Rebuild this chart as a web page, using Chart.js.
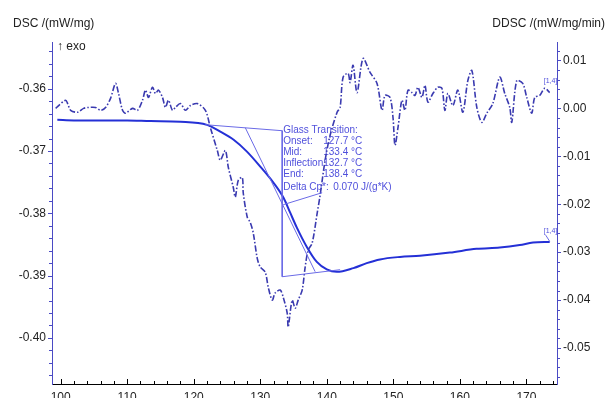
<!DOCTYPE html>
<html>
<head>
<meta charset="utf-8">
<script src="https://cdn.jsdelivr.net/npm/chart.js@4.4.1/dist/chart.umd.min.js"></script>
<style>
  body { margin: 0; background: #fff; }
  #graphic { display: block; }
</style>
</head>
<body>
<canvas id="graphic" width="610" height="398"></canvas>
<script>
// DSC curve (left axis), temperature in °C
const dscTemp = [99.5, 102, 106, 110, 113.5, 118, 122, 124, 126, 128, 130, 132, 133.5, 134.5, 135.5, 137, 138.5, 140, 141.5, 144, 146, 148, 151, 154, 158.5, 162.5, 166, 169, 171, 173.5];
const dscValue = [-0.3650, -0.3651, -0.3651, -0.3651, -0.3652, -0.3653, -0.3658, -0.3669, -0.3682, -0.3701, -0.3725, -0.3751, -0.3775, -0.3799, -0.3823, -0.3854, -0.3878, -0.3890, -0.3894, -0.3888, -0.3880, -0.3874, -0.3870, -0.3868, -0.3863, -0.3857, -0.3855, -0.3851, -0.3847, -0.3846];

// DDSC curve (right axis)
const ddscTemp = [99.25, 99.7, 100.75, 101.05, 101.5, 102.55, 103.45, 104.2, 105.25, 106.0, 106.75, 107.5, 108.25, 108.7, 109.3, 109.75, 110.8, 111.55, 112.3, 112.75, 113.2, 113.8, 114.25, 114.7, 115.3, 115.75, 116.2, 116.8, 117.25, 118.0, 118.75, 119.5, 120.55, 121.75, 122.5, 123.55, 124.0, 124.75, 125.2, 125.95, 126.25, 126.7, 127.3, 127.45, 128.05, 128.5, 128.95, 129.55, 130.0, 130.75, 131.2, 131.8, 132.25, 133.0, 133.45, 134.05, 134.2, 134.8, 135.25, 135.7, 136.3, 136.75, 137.2, 137.8, 138.55, 139.0, 139.75, 140.5, 141.55, 142.0, 142.45, 143.2, 143.5, 143.95, 144.55, 145.45, 146.5, 147.55, 148.3, 148.75, 149.5, 149.95, 150.25, 150.7, 151.3, 151.75, 152.2, 152.8, 153.25, 153.7, 154.3, 154.75, 155.2, 155.95, 156.7, 157.3, 157.75, 158.2, 158.95, 159.7, 160.45, 161.2, 161.8, 162.55, 163.3, 164.05, 164.95, 166.0, 166.75, 167.5, 167.8, 168.55, 169.45, 170.05, 170.8, 171.25, 172.0, 172.75, 173.5];
const ddscValue = [0.0000, 0.0006, 0.0017, 0.0010, -0.0004, -0.0008, 0.0000, 0.0002, 0.0002, -0.0004, 0.0002, 0.0021, 0.0052, 0.0031, -0.0004, -0.0010, 0.0000, -0.0004, 0.0017, 0.0038, 0.0023, 0.0044, 0.0031, 0.0038, 0.0023, 0.0002, 0.0017, -0.0004, 0.0002, 0.0010, -0.0004, 0.0006, 0.0010, -0.0004, -0.0040, -0.0088, -0.0108, -0.0088, -0.0123, -0.0165, -0.0185, -0.0150, -0.0144, -0.0177, -0.0227, -0.0238, -0.0260, -0.0313, -0.0331, -0.0342, -0.0373, -0.0400, -0.0385, -0.0379, -0.0394, -0.0427, -0.0456, -0.0400, -0.0417, -0.0400, -0.0379, -0.0331, -0.0296, -0.0281, -0.0219, -0.0181, -0.0108, -0.0056, -0.0008, 0.0002, 0.0065, 0.0073, 0.0054, 0.0090, 0.0033, 0.0104, 0.0075, 0.0052, -0.0004, 0.0027, 0.0023, -0.0019, -0.0077, -0.0040, 0.0017, -0.0004, 0.0038, 0.0033, 0.0027, 0.0044, 0.0023, 0.0048, 0.0013, 0.0031, 0.0044, 0.0042, -0.0004, 0.0031, 0.0006, 0.0038, -0.0008, 0.0058, 0.0079, 0.0002, -0.0029, -0.0010, 0.0010, 0.0065, 0.0031, 0.0002, -0.0029, 0.0058, 0.0052, 0.0023, -0.0010, 0.0023, 0.0027, 0.0042, 0.0033];

// glass transition evaluation lines (DSC units)
const baseTemp = [121.75, 133.3];
const baseValue = [-0.36578, -0.36674];
const tangentTemp = [127.75, 138.25];
const tangentValue = [-0.36626, -0.38937];
const vertTemp = [133.3, 133.3];
const vertValue = [-0.36674, -0.39018];
const lowTemp = [133.3, 142.0];
const lowValue = [-0.39018, -0.38905];
const cpTemp = [133.45, 139.3];
const cpValue = [-0.37862, -0.37669];

const gtLabels = ['Glass Transition:', 'Onset:', 'Mid:', 'Inflection:', 'End:', 'Delta Cp*:'];
const gtValues = ['', '127.7 °C', '133.4 °C', '132.7 °C', '138.4 °C', '0.070 J/(g*K)'];

const xTicks = [100, 110, 120, 130, 140, 150, 160, 170];
const leftTicks = [-0.36, -0.37, -0.38, -0.39, -0.40];
const rightTicks = [0.01, 0.00, -0.01, -0.02, -0.03, -0.04, -0.05];

const FONT = 'Liberation Sans, Arial, sans-serif';
const AXIS_BLUE = '#4a4ac4';

const toPoints = (xs, ys) => xs.map((x, i) => ({ x: x, y: ys[i] }));

function thinLine(xs, ys) {
    return {
        data: toPoints(xs, ys),
        yAxisID: 'y',
        borderColor: '#6a6ae6',
        borderWidth: 1,
        pointRadius: 0,
        tension: 0
    };
}

const decorations = {
    id: 'decorations',
    beforeDatasetsDraw(chart) {
        const { ctx, scales } = chart;
        const x = scales.x, y = scales.y;
        // evaluation text
        ctx.save();
        ctx.font = '10px ' + FONT;
        ctx.fillStyle = '#5050dc';
        ctx.textBaseline = 'middle';
        const x0 = x.getPixelForValue(baseTemp[1]) + 1;
        const y0 = y.getPixelForValue(baseValue[1]);
        gtLabels.forEach((lab, i) => {
            const yy = y0 + i * 11 + (i === 5 ? 2 : 0);
            ctx.fillText(lab, x0, yy);
            if (gtValues[i]) ctx.fillText(gtValues[i], x0 + (i === 5 ? 50 : 40), yy);
        });
        // [1,4] markers
        ctx.font = '7px ' + FONT;
        ctx.fillText('[1,4]', x.getPixelForValue(172.6), y.getPixelForValue(-0.3828));
        ctx.fillText('[1,4]', x.getPixelForValue(172.6), scales.y2.getPixelForValue(0.0058));
        ctx.strokeStyle = '#6a6ae6';
        ctx.lineWidth = 1;
        ctx.beginPath();
        ctx.moveTo(x.getPixelForValue(172.9), y.getPixelForValue(-0.3835));
        ctx.lineTo(x.getPixelForValue(173.5), y.getPixelForValue(-0.3845));
        ctx.stroke();
        ctx.restore();
    },
    afterDraw(chart) {
        const { ctx, scales, chartArea } = chart;
        const x = scales.x, y = scales.y, y2 = scales.y2;
        ctx.save();
        ctx.lineWidth = 1;
        // x ticks (inside, upwards)
        ctx.strokeStyle = '#000';
        ctx.beginPath();
        for (let t = 100; t <= 174; t += 2) {
            const px = Math.round(x.getPixelForValue(t)) + 0.5;
            const len = t % 10 === 0 ? 5 : 3;
            ctx.moveTo(px, chartArea.bottom);
            ctx.lineTo(px, chartArea.bottom - len);
        }
        ctx.stroke();
        // left ticks
        ctx.strokeStyle = AXIS_BLUE;
        ctx.beginPath();
        for (let k = -203; k <= -177; k++) {
            const v = k * 0.002;
            const py = Math.round(y.getPixelForValue(v)) + 0.5;
            const len = k % 5 === 0 ? 4 : 3;
            ctx.moveTo(chartArea.left, py);
            ctx.lineTo(chartArea.left - len, py);
        }
        // right ticks
        for (let k = -28; k <= 6; k++) {
            const v = k * 0.002;
            const py = Math.round(y2.getPixelForValue(v)) + 0.5;
            const len = k % 5 === 0 ? 4 : 3;
            ctx.moveTo(chartArea.right, py);
            ctx.lineTo(chartArea.right + len, py);
        }
        ctx.stroke();
        // axis titles
        ctx.fillStyle = '#222';
        ctx.font = '12px ' + FONT;
        ctx.textBaseline = 'alphabetic';
        ctx.textAlign = 'left';
        ctx.fillText('DSC /(mW/mg)', 13, 27);
        ctx.fillText('\u2191 exo', 57, 50);
        ctx.textAlign = 'right';
        ctx.fillText('DDSC /(mW/mg/min)', 605, 27);
        ctx.restore();
    }
};

const config = {
    type: 'line',
    data: {
        datasets: [
            thinLine(baseTemp, baseValue),
            thinLine(tangentTemp, tangentValue),
            thinLine(vertTemp, vertValue),
            thinLine(lowTemp, lowValue),
            thinLine(cpTemp, cpValue),
            {
                label: 'DDSC',
                data: toPoints(ddscTemp, ddscValue),
                yAxisID: 'y2',
                borderColor: '#3a3ab0',
                borderWidth: 1.6,
                borderDash: [6, 2, 1.5, 2],
                pointRadius: 0,
                tension: 0.3
            },
            {
                label: 'DSC',
                data: toPoints(dscTemp, dscValue),
                yAxisID: 'y',
                borderColor: '#2430d6',
                borderWidth: 2,
                pointRadius: 0,
                cubicInterpolationMode: 'monotone'
            }
        ]
    },
    options: {
        responsive: false,
        devicePixelRatio: 1,
        animation: false,
        layout: { padding: { top: 42, left: 0, right: 0, bottom: 0 } },
        plugins: { legend: { display: false }, tooltip: { enabled: false } },
        scales: {
            x: {
                type: 'linear',
                position: 'bottom',
                min: 98.7,
                max: 174.6,
                afterBuildTicks: s => { s.ticks = xTicks.map(v => ({ value: v })); },
                afterFit: s => { s.height = 14; },
                grid: { display: false, drawTicks: false },
                border: { display: true, color: '#000', width: 1 },
                ticks: { color: '#222', font: { size: 12, family: FONT }, padding: 6, maxRotation: 0, autoSkip: false }
            },
            y: {
                type: 'linear',
                position: 'left',
                min: -0.4074,
                max: -0.3525,
                afterBuildTicks: s => { s.ticks = leftTicks.map(v => ({ value: v })); },
                afterFit: s => { s.width = 52; },
                grid: { display: false, drawTicks: false },
                border: { display: true, color: AXIS_BLUE, width: 1 },
                ticks: { color: '#222', font: { size: 12, family: FONT }, padding: 6, callback: v => v.toFixed(2) }
            },
            y2: {
                type: 'linear',
                position: 'right',
                min: -0.0575,
                max: 0.01385,
                afterBuildTicks: s => { s.ticks = rightTicks.map(v => ({ value: v })); },
                afterFit: s => { s.width = 53; },
                grid: { display: false, drawTicks: false },
                border: { display: true, color: AXIS_BLUE, width: 1 },
                ticks: { color: '#222', font: { size: 12, family: FONT }, padding: 6, callback: v => v.toFixed(2) }
            }
        }
    },
    plugins: [decorations]
};

new Chart(document.querySelector('#graphic'), config);
</script>
</body>
</html>
